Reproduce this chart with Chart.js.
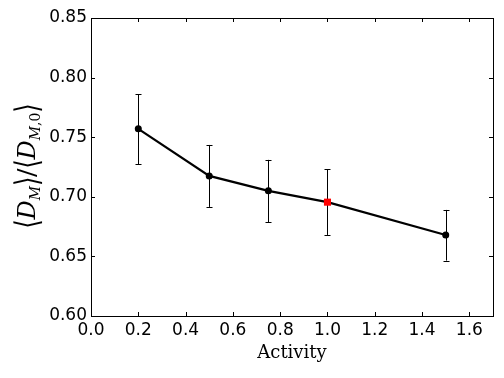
<!DOCTYPE html>
<html>
<head>
<meta charset="utf-8">
<script src="https://cdn.jsdelivr.net/npm/chart.js@4.4.1/dist/chart.umd.min.js"></script>
<style>
  html, body { margin: 0; padding: 0; background: #fff; }
  #wrap { width: 504px; height: 378px; }
</style>
</head>
<body>
<div id="wrap"><canvas id="chart"></canvas></div>
<script>
const activity = [0.2, 0.5, 0.75, 1.0, 1.5];
const ratio = [0.757, 0.7175, 0.705, 0.6955, 0.668];
const errLow = [0.7275, 0.6915, 0.6785, 0.668, 0.6465];
const errHigh = [0.786, 0.7435, 0.731, 0.723, 0.689];
const pointColors = ['#000', '#000', '#000', '#ff0000', '#000'];
const pointShapes = ['circle', 'circle', 'circle', 'rect', 'circle'];
const xTicks = [0.0, 0.2, 0.4, 0.6, 0.8, 1.0, 1.2, 1.4, 1.6];
const yTicks = [0.60, 0.65, 0.70, 0.75, 0.80, 0.85];

// error bars + inward ticks on all four sides + y label
const extras = {
    id: 'extras',
    beforeDatasetsDraw(chart) {
        const ctx = chart.ctx;
        const x = chart.scales.x, y = chart.scales.y;
        ctx.save();
        ctx.strokeStyle = '#000';
        ctx.lineWidth = 1;
        activity.forEach((a, i) => {
            const px = Math.round(x.getPixelForValue(a)) + 0.5;
            const top = y.getPixelForValue(errHigh[i]);
            const bot = y.getPixelForValue(errLow[i]);
            ctx.beginPath();
            ctx.moveTo(px, top); ctx.lineTo(px, bot);
            ctx.moveTo(px - 3, Math.round(top) + 0.5); ctx.lineTo(px + 3, Math.round(top) + 0.5);
            ctx.moveTo(px - 3, Math.round(bot) + 0.5); ctx.lineTo(px + 3, Math.round(bot) + 0.5);
            ctx.stroke();
        });
        ctx.restore();
    },
    afterDraw(chart) {
        const ctx = chart.ctx;
        const a = chart.chartArea;
        const x = chart.scales.x, y = chart.scales.y;
        ctx.save();
        ctx.strokeStyle = '#000';
        ctx.lineWidth = 1;
        ctx.strokeRect(Math.round(a.left) + 0.5, Math.round(a.top) + 0.5, Math.round(a.right - a.left), Math.round(a.bottom - a.top));
        ctx.beginPath();
        xTicks.forEach(v => {
            const px = Math.round(x.getPixelForValue(v)) + 0.5;
            ctx.moveTo(px, a.bottom); ctx.lineTo(px, a.bottom - 4);
            ctx.moveTo(px, a.top); ctx.lineTo(px, a.top + 4);
        });
        yTicks.forEach(v => {
            const py = Math.round(y.getPixelForValue(v)) + 0.5;
            ctx.moveTo(a.left, py); ctx.lineTo(a.left + 4, py);
            ctx.moveTo(a.right, py); ctx.lineTo(a.right - 4, py);
        });
        ctx.stroke();

        // y label: <D_M>/<D_{M,0}>
        ctx.translate(27, (a.top + a.bottom) / 2 - 1);
        ctx.rotate(-Math.PI / 2);
        ctx.fillStyle = '#000';
        ctx.textBaseline = 'alphabetic';
        const brk = '23px "DejaVu Serif"';
        const big = '25px "DejaVu Serif"';
        const ital = 'italic 24px "DejaVu Serif"';
        const sub = 'italic 14px "DejaVu Serif"';
        const subR = '14px "DejaVu Serif"';
        // [font, text, baseline shift, vertical stretch]
        const parts = [
            [brk, '\u27E8', 0, 1.4], [ital, 'D', 0, 1], [sub, 'M', 5, 1], [brk, '\u27E9', 0, 1.4],
            [big, '/', 0, 1],
            [brk, '\u27E8', 0, 1.4], [ital, 'D', 0, 1], [sub, 'M', 5, 1], [subR, ',0', 5, 1], [brk, '\u27E9', 0, 1.4]
        ];
        let w = 0;
        parts.forEach(p => { ctx.font = p[0]; w += ctx.measureText(p[1]).width; });
        let cx = -w / 2;
        parts.forEach(p => {
            ctx.font = p[0];
            if (p[3] !== 1) {
                ctx.save();
                ctx.translate(0, 2);
                ctx.scale(1, p[3]);
                ctx.fillText(p[1], cx, 8 / p[3] + 1);
                ctx.restore();
            } else {
                ctx.fillText(p[1], cx, 8 + p[2]);
            }
            cx += ctx.measureText(p[1]).width;
        });
        ctx.restore();
    }
};

new Chart(document.getElementById('chart'), {
    type: 'scatter',
    data: {
        datasets: [{
            data: activity.map((a, i) => ({ x: a, y: ratio[i] })),
            showLine: true,
            borderColor: '#000',
            borderWidth: 2.2,
            pointBackgroundColor: pointColors,
            pointBorderColor: pointColors,
            pointStyle: pointShapes,
            pointRadius: [3.5, 3.5, 3.5, 5, 3.5],
            pointBorderWidth: 0,
            tension: 0
        }]
    },
    options: {
        responsive: true,
        maintainAspectRatio: false,
        animation: false,
        layout: { padding: { left: 0, right: 11, top: 18, bottom: 0 } },
        plugins: { legend: { display: false }, tooltip: { enabled: false } },
        scales: {
            x: {
                type: 'linear',
                min: 0, max: 1.7,
                afterBuildTicks: s => { s.ticks = xTicks.map(v => ({ value: v })); },
                afterFit: s => { s.height = 62; },
                grid: { display: false, drawTicks: false },
                border: { display: false },
                ticks: {
                    color: '#000',
                    padding: 4,
                    font: { family: 'DejaVu Sans', size: 17 },
                    callback: v => v.toFixed(1)
                },
                title: {
                    display: true,
                    text: 'Activity',
                    color: '#000',
                    font: { family: 'DejaVu Serif', size: 18 },
                    padding: { top: 0, bottom: 14 }
                }
            },
            y: {
                type: 'linear',
                min: 0.6, max: 0.85,
                afterBuildTicks: s => { s.ticks = yTicks.map(v => ({ value: v })); },
                afterFit: s => { s.width = 91; },
                grid: { display: false, drawTicks: false },
                border: { display: false },
                ticks: {
                    color: '#000',
                    padding: 4,
                    font: { family: 'DejaVu Sans', size: 17 },
                    callback: v => v.toFixed(2)
                }
            }
        }
    },
    plugins: [extras]
});
</script>
</body>
</html>
